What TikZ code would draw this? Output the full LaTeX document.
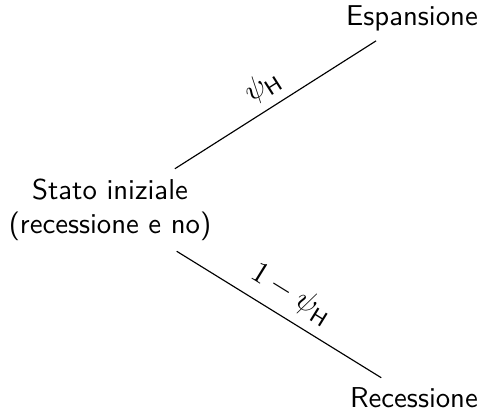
\documentclass[tikz,border=0pt]{standalone}
\usepackage{amsmath}
\begin{document}
\begin{tikzpicture}[x=0.348pt,y=-0.348pt,
  every node/.style={font=\sffamily},
  state/.style={inner sep=3.33pt, align=center},
  branch/.style={draw=black, line width=0.4pt},
  prob/.style={sloped, inner sep=0pt, scale=1.06}]
\useasboundingbox (0,0) rectangle (482,412);
\node[state] (root) at (110,210) {Stato iniziale\\(recessione e no)};
\node[state] (esp) at (412,18) {Espansione};
\node[state] (rec) at (414,398) {Recessione};
\draw[branch] (root) -- node[prob, pos=0.496, yshift=7.3pt] {$\psi_{\mathsf{H}}$} (esp);
\draw[branch] (root) -- node[prob, pos=0.50, yshift=7.7pt] {$1-\psi_{\mathsf{H}}$} (rec);
\end{tikzpicture}
\end{document}
